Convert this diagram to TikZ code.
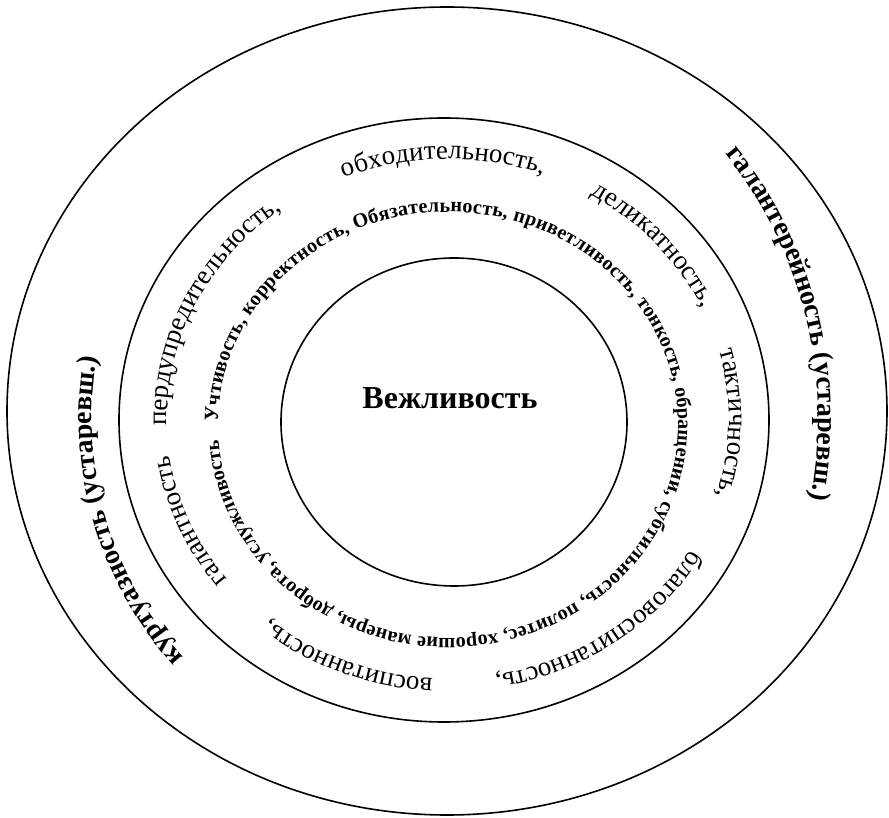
\documentclass[tikz,border=0pt]{standalone}
\usepackage{fontspec}
\setmainfont{Liberation Serif}
\usetikzlibrary{decorations.text}
\newcommand\corefont{\bfseries\fontsize{16}{18}\selectfont}
\newcommand\wordfont{\fontsize{13.5}{15}\selectfont}
\newcommand\listfont{\bfseries\fontsize{10.1}{12}\selectfont}
\newcommand\oldfont{\bfseries\fontsize{14}{16}\selectfont}

\begin{document}
\begin{tikzpicture}[x=0.5pt, y=0.5pt, ring/.style={draw, line width=0.8pt},
    arcword/.style={decorate, decoration={text along path, text align=center, text={#1}}},
    listword/.style={decorate, decoration={text along path, text align=fit to path, text={#1}}}]
    \useasboundingbox (-448,-399) rectangle (441,419);
    % rings
    \draw[ring] (-1,8) ellipse[x radius=440, y radius=404];
    \draw[ring] (-4,-1) ellipse[x radius=325, y radius=302];
    \draw[ring] (6,-3) ellipse[x radius=173, y radius=164];
    \node (core) at (2,21) {\corefont Вежливость};
    % outer ring
    \path[arcword={|\oldfont|галантерейность (устаревш.)}]
        (45:370 and 400) arc[start angle=45, end angle=-15, x radius=370, y radius=400];
    \path[arcword={|\oldfont|куртуазность (устаревш.)}]
        (226:356) arc[start angle=226, end angle=166, radius=356];
    % middle ring
    \path[arcword={|\wordfont|пердупредительность,}]
        (187:281 and 260) arc[start angle=187, end angle=121, x radius=281, y radius=260];
    \path[arcword={|\wordfont|обходительность,}]
        (121:281 and 260) arc[start angle=121, end angle=61, x radius=281, y radius=260];
    \path[arcword={|\wordfont|деликатность,}]
        (72:281 and 260) arc[start angle=72, end angle=12, x radius=281, y radius=260];
    \path[arcword={|\wordfont|тактичность,}]
        (29:281 and 260) arc[start angle=29, end angle=-31, x radius=281, y radius=260];
    \path[arcword={|\wordfont|благовоспитанность,}]
        (-20:281 and 260) arc[start angle=-20, end angle=-90, x radius=281, y radius=260];
    \path[arcword={|\wordfont|воспитанность,}]
        (-80:281 and 260) arc[start angle=-80, end angle=-143, x radius=281, y radius=260];
    \path[arcword={|\wordfont|галантность}]
        (226:281 and 260) arc[start angle=226, end angle=180, x radius=281, y radius=260];
    % inner ring
    \path[listword={|\listfont|Учтивость, корректность, Обязательность, приветливость, тонкость, обращении, субтильность, политес, хорошие манеры, доброта, услужливость}]
        ([shift={(0,-6)}]179:230 and 213) arc[start angle=179, end angle=-176, x radius=230, y radius=213];
\end{tikzpicture}
\end{document}
